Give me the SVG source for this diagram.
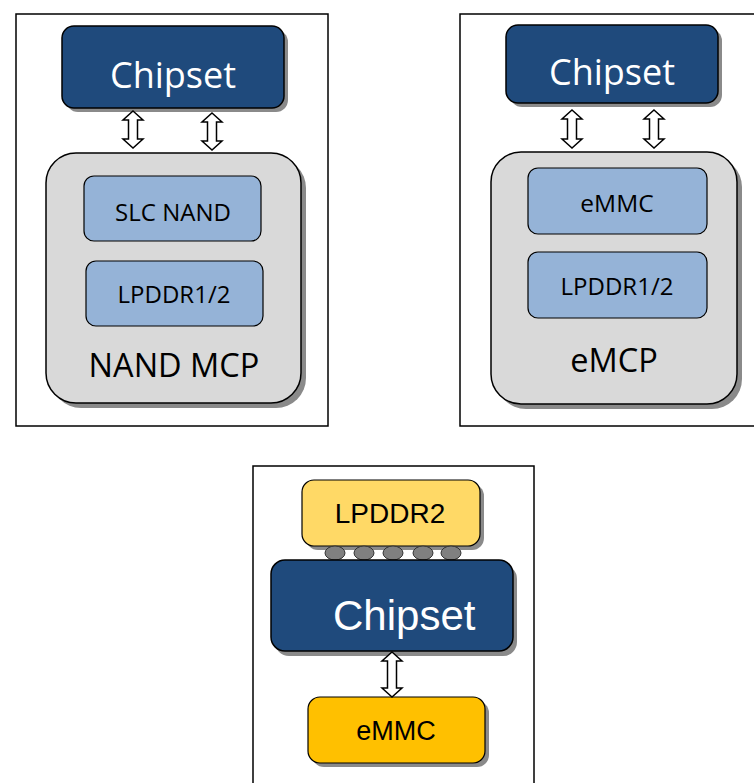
<svg xmlns="http://www.w3.org/2000/svg" width="754" height="783" viewBox="0 0 754 783">
  <style>
    .frame { fill: #ffffff; stroke: #000000; stroke-width: 1.5; }
    .shadow { fill: #8a8a8a; }
    .chip { fill: #1f4a7c; stroke: #000000; stroke-width: 1.5; }
    .pkg { fill: #d9d9d9; stroke: #000000; stroke-width: 1.5; }
    .die { fill: #95b3d7; stroke: #000000; stroke-width: 1.2; }
    .ram { fill: #ffd966; stroke: #000000; stroke-width: 1.2; }
    .flash { fill: #ffc000; stroke: #000000; stroke-width: 1.2; }
    .ball { fill: #808080; stroke: #333333; stroke-width: 1; }
    .arrow { fill: #ffffff; stroke: #000000; stroke-width: 1.5; stroke-linejoin: miter; }
    .t { font-family: "Open Sans", "Liberation Sans", sans-serif; text-anchor: middle; }
    .ta { font-family: "Liberation Sans", Arial, sans-serif; }
    .white { fill: #ffffff; }
    .black { fill: #000000; }
  </style>

  <!-- panel frames -->
  <g id="frames">
    <rect class="frame" x="16" y="14" width="312" height="412"/>
    <rect class="frame" x="460" y="14" width="310" height="412"/>
    <rect class="frame" x="253" y="466" width="281" height="340"/>
  </g>

  <!-- NAND MCP configuration -->
  <g id="chipset-a">
    <rect class="shadow" x="66" y="30" width="222" height="82" rx="12"/>
    <rect class="chip" x="62" y="26" width="222" height="82" rx="12"/>
    <text class="t white" x="173" y="88" font-size="36">Chipset</text>
  </g>
  <g id="nand-mcp">
    <rect class="shadow" x="51" y="158" width="255" height="250" rx="30"/>
    <rect class="pkg" x="46" y="153" width="255" height="250" rx="30"/>
    <text class="t black" x="174" y="377" font-size="32.5">NAND MCP</text>
  </g>
  <g id="slc-nand">
    <rect class="die" x="84" y="176" width="177" height="65" rx="10"/>
    <text class="t black" x="173" y="221" font-size="24">SLC NAND</text>
  </g>
  <g id="lpddr-a">
    <rect class="die" x="86" y="261" width="177" height="65" rx="10"/>
    <text class="t black" x="174" y="303" font-size="24">LPDDR1/2</text>
  </g>

  <!-- eMCP configuration -->
  <g id="chipset-b">
    <rect class="shadow" x="510" y="29" width="212" height="78" rx="12"/>
    <rect class="chip" x="506" y="25" width="212" height="78" rx="12"/>
    <text class="t white" x="612" y="85" font-size="36">Chipset</text>
  </g>
  <g id="emcp">
    <rect class="shadow" x="496" y="157" width="246" height="252" rx="30"/>
    <rect class="pkg" x="491" y="152" width="246" height="252" rx="30"/>
    <text class="t black" x="614" y="372" font-size="32.5">eMCP</text>
  </g>
  <g id="emmc-b">
    <rect class="die" x="528" y="168" width="179" height="66" rx="10"/>
    <text class="t black" x="617" y="212" font-size="24.5">eMMC</text>
  </g>
  <g id="lpddr-b">
    <rect class="die" x="528" y="252" width="179" height="66" rx="10"/>
    <text class="t black" x="617" y="295" font-size="24">LPDDR1/2</text>
  </g>

  <!-- discrete configuration -->
  <g id="lpddr2">
    <rect class="shadow" x="306" y="484" width="178" height="66" rx="12"/>
    <rect class="ram" x="302" y="480" width="178" height="66" rx="12"/>
    <text class="ta black" x="390" y="523" font-size="28" text-anchor="middle">LPDDR2</text>
  </g>
  <g id="solder-balls">
    <ellipse class="ball" cx="335" cy="553" rx="10" ry="7"/>
    <ellipse class="ball" cx="364" cy="553" rx="10" ry="7"/>
    <ellipse class="ball" cx="393" cy="553" rx="10" ry="7"/>
    <ellipse class="ball" cx="423" cy="553" rx="10" ry="7"/>
    <ellipse class="ball" cx="451" cy="553" rx="10" ry="7"/>
  </g>
  <g id="chipset-c">
    <rect class="shadow" x="275" y="565" width="242" height="91" rx="14"/>
    <rect class="chip" x="271" y="560" width="242" height="91" rx="14"/>
    <text class="ta white" x="333" y="630" font-size="42">Chipset</text>
  </g>
  <g id="emmc-c">
    <rect class="shadow" x="312" y="701" width="177" height="66" rx="12"/>
    <rect class="flash" x="308" y="697" width="177" height="66" rx="12"/>
    <text class="ta black" x="396" y="740" font-size="27" text-anchor="middle">eMMC</text>
  </g>

  <!-- bidirectional bus arrows -->
  <g id="connectors">
    <path class="arrow" d="M133,111 L143,120 L137.5,120 L137.5,139 L143,139 L133,148 L123,139 L128.5,139 L128.5,120 L123,120 Z"/>
    <path class="arrow" d="M212,113 L222,122 L216.5,122 L216.5,141 L222,141 L212,150 L202,141 L207.5,141 L207.5,122 L202,122 Z"/>
    <path class="arrow" d="M572,110 L582,119 L576.5,119 L576.5,139 L582,139 L572,148 L562,139 L567.5,139 L567.5,119 L562,119 Z"/>
    <path class="arrow" d="M654,110 L664,119 L658.5,119 L658.5,139 L664,139 L654,148 L644,139 L649.5,139 L649.5,119 L644,119 Z"/>
    <path class="arrow" d="M392,652 L402,661 L396.5,661 L396.5,688 L402,688 L392,697 L382,688 L387.5,688 L387.5,661 L382,661 Z"/>
  </g>
</svg>
